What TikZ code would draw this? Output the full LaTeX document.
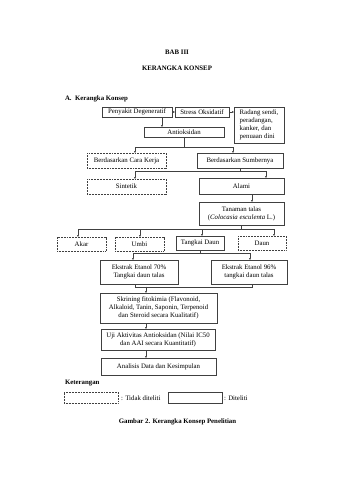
\documentclass[tikz,border=0pt]{standalone}
\usepackage{fontspec}
\setmainfont{Liberation Serif}
\usetikzlibrary{arrows.meta}
\newcommand{\pu}{0.0619cm}
\tikzset{
    box/.style={draw=black!75, line width=0.5pt, inner sep=0pt, align=center,
        font=\fontsize{12}{14}\selectfont},
    nobox/.style={box, dash pattern=on 1.5pt off 1.2pt},
    sz/.style 2 args={minimum width=#1*\pu, minimum height=#2*\pu},
    ln/.style={draw=black!75, line width=0.5pt},
    arr/.style={ln, -{Triangle[length=1mm,width=1mm]}},
    judul/.style={font=\bfseries\fontsize{12}{14}\selectfont},
    teks/.style={font=\fontsize{12}{14}\selectfont}
}
\begin{document}
\begin{tikzpicture}[x=\pu, y=-\pu]
    \useasboundingbox (0,0) rectangle (339,480);

    % Judul bab
    \node[judul] (bab) at (177,52) {BAB III};
    \node[judul] (kk) at (177,68.5) {KERANGKA KONSEP};
    \node[judul, anchor=west] (subbab) at (63,99) {A.\ \ Kerangka Konsep};

    % Baris atas
    \node[box, sz={70}{10}] (pd) at (137,112) {Penyakit Degeneratif};
    \node[box, sz={54}{10}] (so) at (202,112) {Stress Oksidatif};
    \node[box, sz={50}{36}, align=left] (rs) at (259,125)
        {Radang sendi,\\peradangan,\\kanker, dan\\penuaan dini};
    \node[box, sz={80}{10}] (ao) at (184,132) {Antioksidan};

    % Penggolongan antioksidan
    \node[nobox, sz={79}{15}] (ck) at (126.5,160.5) {Berdasarkan Cara Kerja};
    \node[box, sz={86}{15}] (sb) at (240,160.5) {Berdasarkan Sumbernya};
    \node[nobox, sz={79}{15}] (st) at (126.5,186.5) {Sintetik};
    \node[box, sz={85}{16}] (al) at (241.5,186) {Alami};
    \node[box, sz={85}{23}] (tt) at (241.5,213.5)
        {Tanaman talas\\(\textit{Colocasia esculenta} L.)};

    % Bagian tanaman
    \node[nobox, sz={49}{14}] (akar) at (81.5,244) {Akar};
    \node[nobox, sz={49}{14}] (umbi) at (139.5,244) {Umbi};
    \node[box, sz={48}{14}] (td) at (200,243) {Tangkai Daun};
    \node[nobox, sz={48}{14}] (daun) at (262,243) {Daun};

    % Ekstrak dan pengujian
    \node[box, sz={78}{24}] (e70) at (139,272) {Ekstrak Etanol 70\%\\Tangkai daun talas};
    \node[box, sz={76}{24}] (e96) at (249,272) {Ekstrak Etanol 96\%\\tangkai daun talas};
    \node[box, sz={117}{30}] (sk) at (158.5,308)
        {Skrining fitokimia (Flavonoid,\\Alkaloid, Tanin, Saponin, Terpenoid\\dan Steroid secara Kualitatif)};
    \node[box, sz={114}{21}] (uji) at (158,339.5)
        {Uji Aktivitas Antioksidan (Nilai IC50\\dan AAI secara Kuantitatif)};
    \node[box, sz={115}{17}] (an) at (158.5,366.5) {Analisis Data dan Kesimpulan};

    % Titik bantu untuk panah
    \coordinate (xa) at (162,0);
    \coordinate (xb) at (135,0);
    \coordinate (xc) at (233,0);
    \coordinate (xd) at (266,0);
    \coordinate (xe) at (252,0);
    \coordinate (xf) at (78,0);
    \coordinate (xg) at (140,0);
    \coordinate (xh) at (202,0);
    \coordinate (xi) at (274,0);
    \coordinate (xj) at (133,0);
    \coordinate (xk) at (250,0);
    \coordinate (xm) at (146,0);

    % Panah
    \draw[arr] (pd) -- (so);
    \draw[arr] (so.east) -- (so.east -| rs.west);
    \draw[arr] (pd.south -| xa) -- (ao.north -| xa);
    \draw[arr] (ao.south) -- ++(0,10) -| (ck.north -| xb);
    \draw[arr] (ao.south) -- ++(0,10) -| (sb.north -| xc);
    \draw[arr] (sb.south) -- ++(0,3) -| (st.north -| xb);
    \draw[arr] (sb.south) -- ++(0,3) -| (al.north -| xd);
    \draw[arr] (al.south -| xe) -- (tt.north -| xe);
    \draw[arr] (tt.south) -- ++(0,4) -| (akar.north -| xf);
    \draw[arr] (tt.south) -- ++(0,4) -| (umbi.north -| xg);
    \draw[arr] (tt.south) -- ++(0,4) -| (td.north -| xh);
    \draw[arr] (tt.south) -- ++(0,4) -| (daun.north -| xi);
    \draw[arr] (td.south) -- ++(0,3) -| (e70.north -| xj);
    \draw[arr] (td.south) -- ++(0,3) -| (e96.north -| xk);
    \draw[ln] (e70.south -| xb) -- ++(0,2.5) -| (e96.south -| xe);
    \draw[arr] (e70.south -| xm) ++(0,2.5) -- (sk.north -| xm);
    \draw[arr] (sk.south -| xm) -- (uji.north -| xm);
    \draw[arr] (uji.south -| xm) -- (an.north -| xm);

    % Keterangan
    \node[judul, anchor=west] (ket) at (63,383) {Keterangan};
    \node[nobox, sz={54}{11}] (lg1) at (91,397.5) {};
    \node[teks, anchor=west, inner sep=0pt] (lt1) at (121,398) {: Tidak diteliti};
    \node[box, sz={54}{11}] (lg2) at (195,397.5) {};
    \node[teks, anchor=west, inner sep=0pt] (lt2) at (224,398) {: Diteliti};

    \node[judul] (cap) at (177.5,421.5) {Gambar 2. Kerangka Konsep Penelitian};
\end{tikzpicture}
\end{document}
